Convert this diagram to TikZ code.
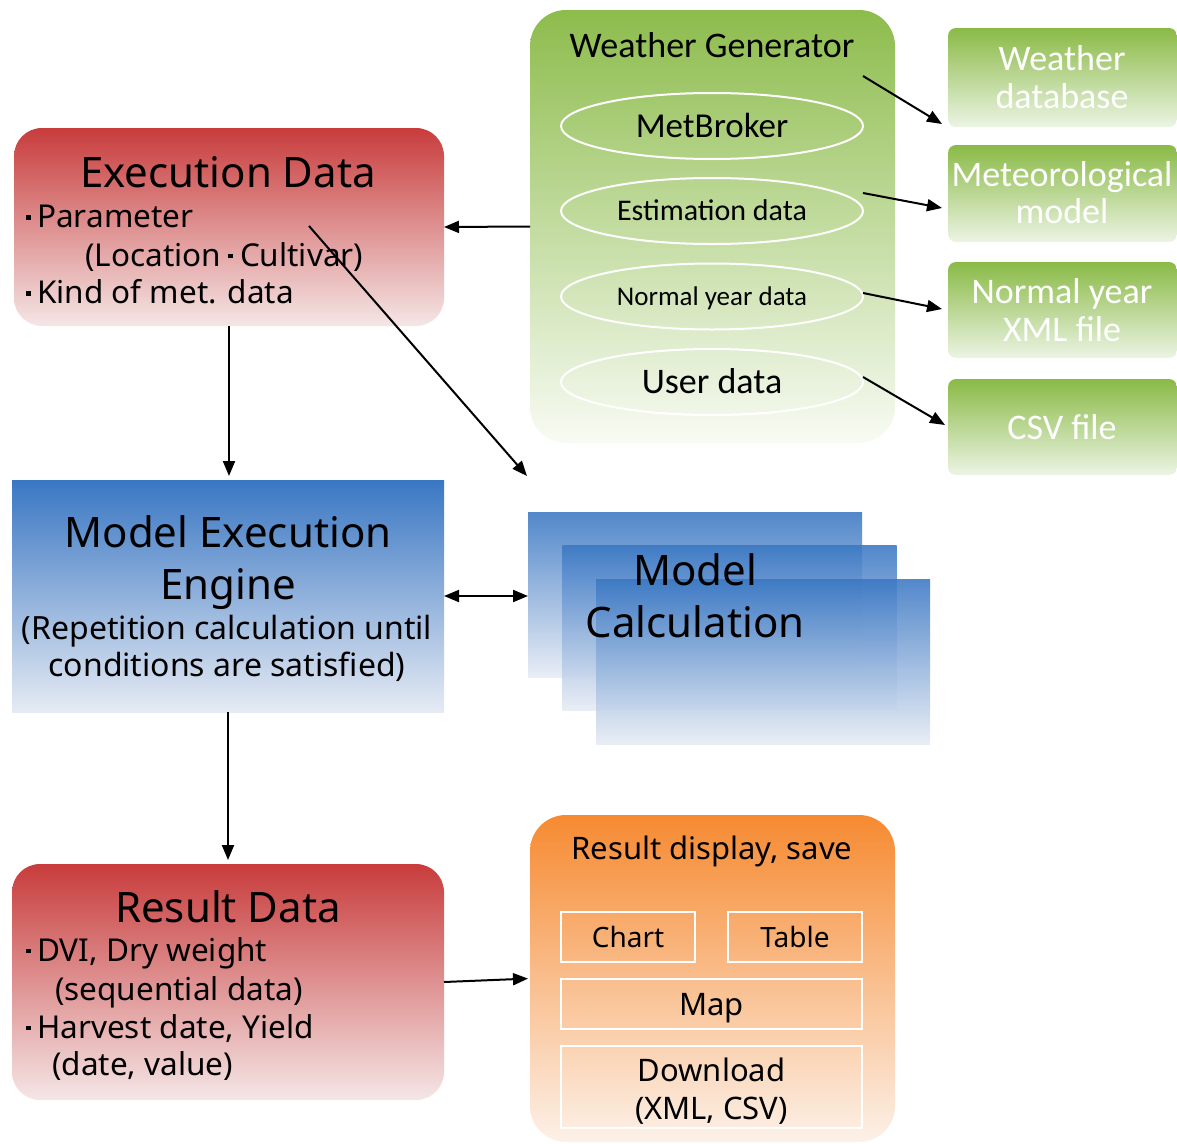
\documentclass[tikz,border=0pt]{standalone}
\usepackage{fontspec}
\setmainfont{Noto Sans}
\newfontfamily\calfont{Carlito}
\usetikzlibrary{arrows.meta,shapes.geometric}

\definecolor{redT}{RGB}{200,60,60}
\definecolor{redM}{RGB}{217,135,135}
\definecolor{redB}{RGB}{245,230,230}
\definecolor{bluT}{RGB}{58,119,195}
\definecolor{bluM}{RGB}{135,165,210}
\definecolor{bluB}{RGB}{230,235,244}
\definecolor{grnT}{RGB}{141,188,76}
\definecolor{grnM}{RGB}{190,216,152}
\definecolor{grnB}{RGB}{248,251,244}
\definecolor{rgT}{RGB}{138,186,70}
\definecolor{rgM}{RGB}{158,198,102}
\definecolor{rgB}{RGB}{236,244,228}
\definecolor{orT}{RGB}{246,138,49}
\definecolor{orM}{RGB}{241,187,142}
\definecolor{orB}{RGB}{252,241,232}

% list dot and inline separator dot
\newcommand\dotglyph{\raisebox{8pt}{\rule{4.6pt}{4.6pt}}}
\newcommand\mdot{\makebox[17pt][c]{\dotglyph}}
\newcommand\mdotin{\makebox[19pt][c]{\dotglyph}}

\begin{document}
\begin{tikzpicture}[x=1pt,y=-1pt,
  box/.style={inner sep=0pt, outer sep=0pt, draw=none},
  redbox/.style={box, rounded corners=28pt, top color=redT, middle color=redM, bottom color=redB},
  bluebox/.style={box, top color=bluT, middle color=bluM, bottom color=bluB},
  calcbox/.style={box, top color=bluT, bottom color=bluB, fill opacity=0.88,
    minimum width=334pt, minimum height=165pt},
  rightbox/.style={box, rounded corners=8pt, top color=rgT, middle color=rgM, bottom color=rgB,
    minimum width=229pt},
  oval/.style={ellipse, draw=white, line width=2pt, inner sep=0pt,
    minimum width=302pt, minimum height=66pt},
  sub/.style={draw=white, line width=2pt, inner sep=0pt},
  arr/.style={line width=2pt, -{Triangle[length=15pt,width=12pt]}},
  darr/.style={line width=2pt, {Triangle[length=15pt,width=12pt]}-{Triangle[length=15pt,width=12pt]}},
  tA/.style={font=\fontsize{42}{50}\selectfont, inner sep=0pt, text height=30pt, text depth=0pt},
  tB/.style={font=\fontsize{31.5}{37}\selectfont, inner sep=0pt, text height=22.5pt, text depth=0pt},
  tC/.style={font=\fontsize{32}{38}\selectfont, inner sep=0pt, text height=23pt, text depth=0pt},
  tD/.style={font=\fontsize{31}{37}\selectfont, inner sep=0pt, text height=22pt, text depth=0pt},
  tS/.style={font=\fontsize{28}{34}\selectfont, inner sep=0pt, text height=20pt, text depth=0pt},
  tG/.style={font=\calfont\fontsize{#1}{#1}\selectfont, inner sep=0pt,
    text height=0.64*#1 pt, text depth=0pt},
  tW/.style={tG=36, text=white}
]
\useasboundingbox (0,0) rectangle (1177,1143);

% ---- boxes ----
\node[redbox, minimum width=430pt, minimum height=198pt] (exec) at (229,227) {};
\node[bluebox, minimum width=432pt, minimum height=232pt] (engine) at (228,596) {};
\node[redbox, minimum width=432pt, minimum height=236pt] (result) at (228,982) {};

\node[calcbox] (calc1) at (695,594.5) {};
\node[calcbox] (calc2) at (729.5,627.5) {};
\node[calcbox] (calc3) at (763,661.5) {};

\node[box, rounded corners=36pt, top color=grnT, middle color=grnM, bottom color=grnB,
  minimum width=365pt, minimum height=433pt] (wg) at (712.5,226.5) {};
\node[box, rounded corners=36pt, top color=orT, middle color=orM, bottom color=orB,
  minimum width=365pt, minimum height=327pt] (display) at (712.5,978.5) {};

\node[rightbox, minimum height=99pt] (wdb) at (1062.5,77.5) {};
\node[rightbox, minimum height=97pt] (metm) at (1062.5,193.5) {};
\node[rightbox, minimum height=96pt] (nyx) at (1062.5,310) {};
\node[rightbox, minimum height=96pt] (csv) at (1062.5,427) {};

% ---- weather generator contents ----
\node[oval] (e1) at (712,126) {};
\node[oval] (e2) at (712,211) {};
\node[oval] (e3) at (712,296.5) {};
\node[oval] (e4) at (712,382) {};
\node[tG=36] (wgT) at (712,46) {Weather Generator};
\node[tG=35] (e1T) at (e1) {MetBroker};
\node[tG=30] (e2T) at (e2) {Estimation data};
\node[tG=27] (e3T) at (e3) {Normal year data};
\node[tG=36] (e4T) at (e4) {User data};

% ---- right-hand boxes text ----
\node[tW] (wdb1) at (1062,59) {Weather};
\node[tW] (wdb2) at (1062,97) {database};
\node[tW] (metm1) at (1062,175) {Meteorological};
\node[tW] (metm2) at (1062,212) {model};
\node[tW] (nyx1) at (1062,292) {Normal year};
\node[tW] (nyx2) at (1062,330) {XML file};
\node[tW] (csv1) at (1062,428) {CSV file};

% ---- execution data text ----
\node[tA] (execT) at (228,172.5) {Execution Data};
\node[tB, anchor=west] (exec1) at (20,216.5) {\mdot Parameter};
\node[tB, anchor=west] (exec2) at (85,255) {(Location\mdotin Cultivar)};
\node[tB, anchor=west] (exec3) at (20,292.5) {\mdot Kind of met. data};

% ---- engine text ----
\node[tA] (engT1) at (228,532) {Model Execution};
\node[tA] (engT2) at (228,584) {Engine};
\node[tC] (eng1) at (227,628) {(Repetition calculation until};
\node[tC] (eng2) at (227,665) {conditions are satisfied)};

% ---- model calculation text ----
\node[tA] (calcT1) at (695,570) {Model};
\node[tA] (calcT2) at (695,622) {Calculation};

% ---- result data text ----
\node[tA] (resT) at (228,907) {Result Data};
\node[tB, anchor=west] (res1) at (20,950) {\mdot DVI, Dry weight};
\node[tB, anchor=west] (res2) at (55,989) {(sequential data)};
\node[tB, anchor=west] (res3) at (20,1027) {\mdot Harvest date, Yield};
\node[tB, anchor=west] (res4) at (52,1064) {(date, value)};

% ---- result display contents ----
\node[sub, minimum width=134pt, minimum height=50pt] (chart) at (628,937) {};
\node[sub, minimum width=134pt, minimum height=50pt] (table) at (795,937) {};
\node[sub, minimum width=301pt, minimum height=50pt] (map) at (711.5,1004) {};
\node[sub, minimum width=301pt, minimum height=82pt] (dl) at (711.5,1087) {};
\node[tD] (dispT) at (712,848) {Result display, save};
\node[tS] (chartT) at (chart) {Chart};
\node[tS] (tableT) at (table) {Table};
\node[tD] (mapT) at (map) {Map};
\node[tD] (dl1) at (711.5,1070) {Download};
\node[tD] (dl2) at (711.5,1108) {(XML, CSV)};

% ---- connectors ----
\draw[arr] (wg.west) -- (exec.east);
\draw[arr, shorten >=4pt] (exec.south) -- (exec.south |- engine.north);
\coordinate (dstart) at (309,226);
\coordinate (dend) at (527,476);
\draw[arr] (dstart) -- (dend);
\draw[darr] (engine.east) -- (engine.east -| calc1.west);
\draw[arr, shorten >=4pt] (engine.south) -- (result.north);
\draw[arr, shorten >=2pt] (result.east) -- (display.west);

\draw[arr] ([shift={(-1,-50)}]e1.east) -- ([shift={(-6,-3)}]wdb.south west);
\draw[arr] ([shift={(-1,-18)}]e2.east) -- ([shift={(-6,14.5)}]metm.west);
\draw[arr] ([shift={(-1,-3.5)}]e3.east) -- ([shift={(-6,-1)}]nyx.west);
\draw[arr] ([shift={(-1,-5)}]e4.east) -- ([shift={(-3,-2)}]csv.west);
\end{tikzpicture}
\end{document}
